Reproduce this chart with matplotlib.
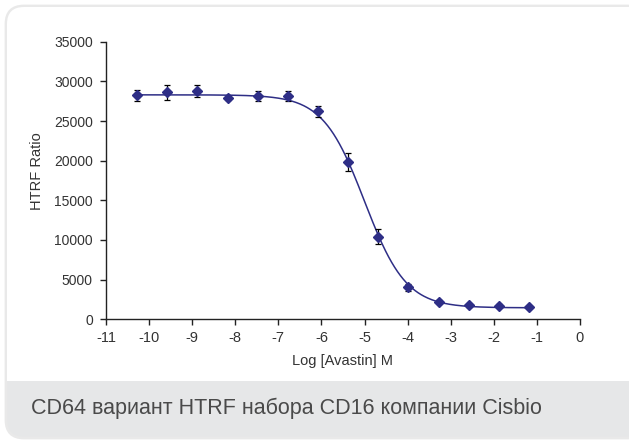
import numpy as np
import matplotlib
matplotlib.use("Agg")
import matplotlib.pyplot as plt
from matplotlib.patches import FancyBboxPatch, Rectangle

# =========================
# DATA
# =========================
log_conc = [-10.28, -9.58, -8.88, -8.18, -7.48, -6.78, -6.08,
            -5.38, -4.68, -3.98, -3.28, -2.58, -1.88, -1.18]
htrf     = [28250, 28600, 28750, 27900, 28150, 28100, 26250,
            19850, 10400, 4050, 2200, 1750, 1700, 1550]
htrf_err = [720, 950, 740, 280, 630, 630, 700,
            1150, 950, 430, 200, 180, 180, 180]

# 4PL fit parameters for the line
FIT_TOP, FIT_BOTTOM, FIT_LOGIC50, FIT_HILL = 28300, 1450, -5.0, 0.9

x_ticks = list(range(-11, 1))
y_ticks = list(range(0, 35001, 5000))
CAPTION = "CD64 вариант HTRF набора CD16 компании Cisbio"

NAVY  = "#2E2E86"
TEXT  = "#333333"
BAND  = "#E6E7E8"
EDGE  = "#E9E9E9"
FONT  = ["Liberation Sans", "DejaVu Sans"]

W, H = 629, 441
fig = plt.figure(figsize=(W / 100, H / 100), dpi=100)
fig.patch.set_facecolor("white")

# ── card background (pixel coords, origin bottom-left) ──
card = FancyBboxPatch((6, 3), W + 10, H - 9, boxstyle="round,pad=0,rounding_size=18",
                      transform=None, facecolor=BAND, edgecolor=EDGE, linewidth=2, zorder=-3)
fig.patches.append(card)
top_part = FancyBboxPatch((7, H - 381), W + 10, 381 - 7, boxstyle="round,pad=0,rounding_size=17",
                          transform=None, facecolor="white", edgecolor="none", zorder=-2)
fig.patches.append(top_part)
fig.patches.append(Rectangle((7, H - 381), W + 10, 40, transform=None,
                             facecolor="white", edgecolor="none", zorder=-2))

fig.text(31 / W, 1 - 408 / H, CAPTION, fontsize=15.5, color="#4A4A4A",
         family=FONT, va="center", ha="left")

# ── plot ──
ax = fig.add_axes([106 / W, 1 - 319.3 / H, (580 - 106) / W, (319.3 - 41.7) / H])
ax.set_facecolor("none")
ax.set_zorder(2)

xs = np.linspace(min(log_conc), max(log_conc), 400)
fit = FIT_BOTTOM + (FIT_TOP - FIT_BOTTOM) / (1 + 10 ** ((xs - FIT_LOGIC50) * FIT_HILL))
ax.plot(xs, fit, color=NAVY, linewidth=1.1, zorder=2)

ax.errorbar(log_conc, htrf, yerr=htrf_err, fmt="none", ecolor="black",
            elinewidth=0.9, capsize=2, capthick=0.9, zorder=3)
ax.plot(log_conc, htrf, linestyle="none", marker="D", markersize=5.5,
        color=NAVY, zorder=4)

ax.set_xlim(-11, 0)
ax.set_ylim(0, 35000)
ax.set_xticks(x_ticks)
ax.set_xticklabels([str(t) for t in x_ticks])
ax.set_yticks(y_ticks)
ax.spines[["top", "right"]].set_visible(False)
for s in ("left", "bottom"):
    ax.spines[s].set_color("#222222")
    ax.spines[s].set_linewidth(1.0)
ax.tick_params(direction="out", length=4.5, width=1.0, color="#222222")
ax.tick_params(axis="y", labelsize=10, labelcolor=TEXT, pad=5)
ax.tick_params(axis="x", labelsize=10.5, labelcolor=TEXT, pad=4)
for lab in ax.get_xticklabels() + ax.get_yticklabels():
    lab.set_family(FONT)

ax.set_ylabel("HTRF Ratio", fontsize=10.5, color=TEXT, family=FONT)
ax.yaxis.set_label_coords((37.3 - 106) / (580 - 106), (319.3 - 171.3) / (319.3 - 41.7))
ax.yaxis.label.set_va("center")
ax.set_xlabel("Log [Avastin] M", fontsize=10.5, color=TEXT, family=FONT)
ax.xaxis.set_label_coords(0.5, -(360.7 - 319.3) / (319.3 - 41.7))
ax.xaxis.label.set_va("center")

fig.savefig("out.png", dpi=100)
